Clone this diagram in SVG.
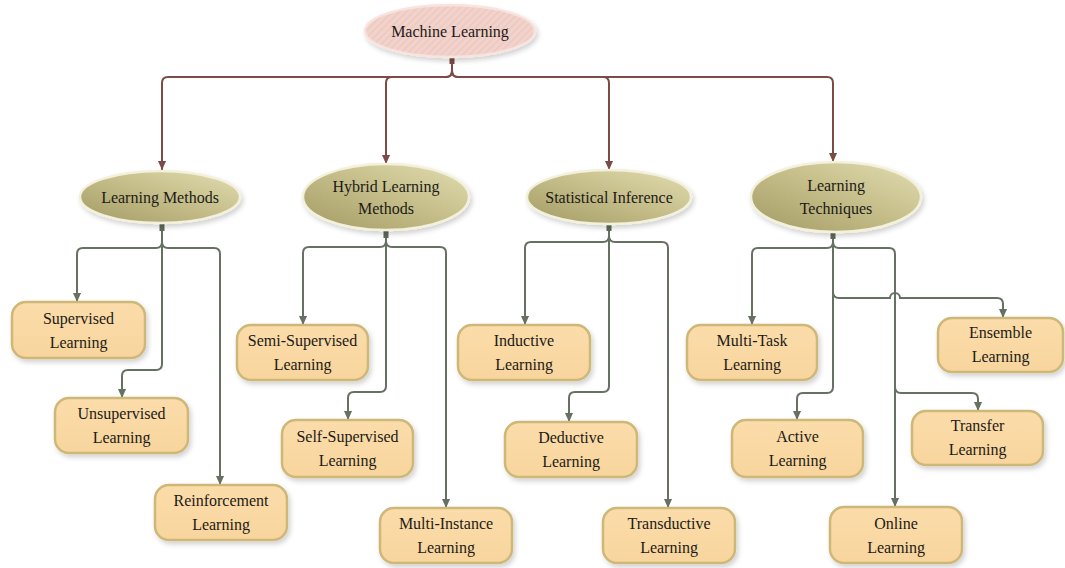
<svg xmlns="http://www.w3.org/2000/svg" width="1065" height="568" viewBox="0 0 1065 568">
<defs>
<style>
.t{font-family:"Liberation Serif","Times New Roman",serif;font-size:16px;fill:#1c1a16;text-anchor:middle}
.box{fill:url(#gBox);stroke:#cdb878;stroke-width:2.5;filter:url(#sh)}
.ell{fill:url(#gEll);stroke:#f3f0dc;stroke-width:2.5;filter:url(#sh)}
.cb{fill:none;stroke:#7b4b47;stroke-width:2;marker-end:url(#ab)}
.cg{fill:none;stroke:#667063;stroke-width:2;marker-end:url(#ag)}
</style>
<linearGradient id="gBox" x1="0" y1="0" x2="0" y2="1">
<stop offset="0" stop-color="#fbdcaa"/><stop offset="1" stop-color="#f8d59d"/>
</linearGradient>
<linearGradient id="gEll" x1="0" y1="1" x2="1" y2="0">
<stop offset="0" stop-color="#a39b64"/><stop offset="0.55" stop-color="#c7c08c"/><stop offset="1" stop-color="#e2ddb2"/>
</linearGradient>
<pattern id="stripe" width="5" height="5" patternUnits="userSpaceOnUse" patternTransform="rotate(45)">
<rect width="5" height="5" fill="#f2d3cc"/><rect width="1.5" height="5" fill="#ecc7bf"/>
</pattern>
<filter id="sh" x="-20%" y="-20%" width="140%" height="150%">
<feDropShadow dx="2" dy="3" stdDeviation="2.5" flood-color="#000" flood-opacity="0.18"/>
</filter>
<marker id="ab" viewBox="0 0 10 10" refX="10" refY="5" markerWidth="9" markerHeight="9" markerUnits="userSpaceOnUse" orient="auto"><path d="M0,0.5 L10,5 L0,9.5 z" fill="#7b4b47"/></marker>
<marker id="ag" viewBox="0 0 10 10" refX="10" refY="5" markerWidth="9" markerHeight="9" markerUnits="userSpaceOnUse" orient="auto"><path d="M0,0.5 L10,5 L0,9.5 z" fill="#667063"/></marker>
</defs>
<rect width="1065" height="568" fill="#ffffff"/>

<g id="connectors">
<path class="cb" d="M452,63 V71 Q452,77 446,77 H168 Q162,77 162,83 V170"/>
<path class="cb" d="M452,63 V71 Q452,77 446,77 H392 Q386,77 386,83 V164"/>
<path class="cb" d="M452,63 V71 Q452,77 458,77 H603 Q609,77 609,83 V170"/>
<path class="cb" d="M452,63 V71 Q452,77 458,77 H827 Q833,77 833,83 V162"/>

<path class="cg" d="M162,230 V242 Q162,248 156,248 H83 Q77,248 77,254 V302"/>
<path class="cg" d="M162,230 V364 Q162,370 156,370 H128 Q122,370 122,376 V398"/>
<path class="cg" d="M162,230 V242 Q162,248 168,248 H214 Q220,248 220,254 V485"/>

<path class="cg" d="M386,236 V241 Q386,247 380,247 H309 Q303,247 303,253 V325"/>
<path class="cg" d="M386,236 V386 Q386,392 380,392 H354 Q348,392 348,398 V420"/>
<path class="cg" d="M386,236 V241 Q386,247 392,247 H440 Q446,247 446,253 V508"/>

<path class="cg" d="M609,230 V236 Q609,242 603,242 H531 Q525,242 525,248 V325"/>
<path class="cg" d="M609,230 V386 Q609,392 603,392 H575 Q569,392 569,398 V422"/>
<path class="cg" d="M609,230 V236 Q609,242 615,242 H662 Q668,242 668,248 V508"/>

<path class="cg" d="M833,238 V242 Q833,248 827,248 H758 Q752,248 752,254 V325"/>
<path class="cg" d="M833,238 V242 Q833,248 839,248 H889 Q895,248 895,254 V507"/>
<path class="cg" d="M833,238 V292 Q833,298 839,298 H890 A5,5 0 0 1 900,298 H997 Q1003,298 1003,304 V318"/>
<path class="cg" d="M833,238 V387 Q833,393 827,393 H803 Q797,393 797,399 V420"/>
<path class="cg" d="M895,387 Q895,393 901,393 H972 Q978,393 978,399 V411"/>

<rect x="449.5" y="56" width="5" height="8" fill="#7b4b47"/>
<rect x="159.5" y="223" width="5" height="8" fill="#5e6a5a"/>
<rect x="383.5" y="230" width="5" height="8" fill="#5e6a5a"/>
<rect x="606.5" y="223" width="5" height="8" fill="#5e6a5a"/>
<rect x="830.5" y="231" width="5" height="8" fill="#5e6a5a"/>
</g>

<g id="machine-learning">
<ellipse cx="450" cy="31" rx="85" ry="26" fill="url(#stripe)" stroke="#f7e4df" stroke-width="2.5" filter="url(#sh)"/>
<text class="t" x="450" y="37">Machine Learning</text>
</g>

<g id="learning-methods">
<ellipse class="ell" cx="160" cy="197" rx="80" ry="26"/>
<text class="t" x="160" y="203">Learning Methods</text>
</g>
<g id="hybrid-learning-methods">
<ellipse class="ell" cx="386" cy="197" rx="83" ry="33"/>
<text class="t" x="386" y="192">Hybrid Learning</text>
<text class="t" x="386" y="214">Methods</text>
</g>
<g id="statistical-inference">
<ellipse class="ell" cx="609" cy="197" rx="82" ry="27"/>
<text class="t" x="609" y="203">Statistical Inference</text>
</g>
<g id="learning-techniques">
<ellipse class="ell" cx="836" cy="197" rx="85" ry="35"/>
<text class="t" x="836" y="191">Learning</text>
<text class="t" x="836" y="214">Techniques</text>
</g>

<g id="supervised">
<rect class="box" x="12" y="302" width="133" height="56" rx="14"/>
<text class="t" x="78.5" y="324">Supervised</text><text class="t" x="78.5" y="348">Learning</text>
</g>
<g id="unsupervised">
<rect class="box" x="55" y="398" width="133" height="55" rx="14"/>
<text class="t" x="121.5" y="419">Unsupervised</text><text class="t" x="121.5" y="443">Learning</text>
</g>
<g id="reinforcement">
<rect class="box" x="155" y="485" width="132" height="55" rx="14"/>
<text class="t" x="221" y="506">Reinforcement</text><text class="t" x="221" y="530">Learning</text>
</g>
<g id="semi-supervised">
<rect class="box" x="237" y="325" width="131" height="55" rx="14"/>
<text class="t" x="302.5" y="346">Semi-Supervised</text><text class="t" x="302.5" y="370">Learning</text>
</g>
<g id="self-supervised">
<rect class="box" x="282" y="420" width="131" height="57" rx="14"/>
<text class="t" x="347.5" y="442">Self-Supervised</text><text class="t" x="347.5" y="466">Learning</text>
</g>
<g id="multi-instance">
<rect class="box" x="380" y="508" width="132" height="55" rx="14"/>
<text class="t" x="446" y="529">Multi-Instance</text><text class="t" x="446" y="553">Learning</text>
</g>
<g id="inductive">
<rect class="box" x="458" y="325" width="132" height="55" rx="14"/>
<text class="t" x="524" y="346">Inductive</text><text class="t" x="524" y="370">Learning</text>
</g>
<g id="deductive">
<rect class="box" x="505" y="422" width="132" height="55" rx="14"/>
<text class="t" x="571" y="443">Deductive</text><text class="t" x="571" y="467">Learning</text>
</g>
<g id="transductive">
<rect class="box" x="603" y="508" width="132" height="55" rx="14"/>
<text class="t" x="669" y="529">Transductive</text><text class="t" x="669" y="553">Learning</text>
</g>
<g id="multi-task">
<rect class="box" x="687" y="325" width="130" height="55" rx="14"/>
<text class="t" x="752" y="346">Multi-Task</text><text class="t" x="752" y="370">Learning</text>
</g>
<g id="ensemble">
<rect class="box" x="938" y="318" width="125" height="54" rx="14"/>
<text class="t" x="1000.5" y="338">Ensemble</text><text class="t" x="1000.5" y="362">Learning</text>
</g>
<g id="active">
<rect class="box" x="732" y="420" width="131" height="57" rx="14"/>
<text class="t" x="797.5" y="442">Active</text><text class="t" x="797.5" y="466">Learning</text>
</g>
<g id="transfer">
<rect class="box" x="912" y="411" width="131" height="54" rx="14"/>
<text class="t" x="977.5" y="431">Transfer</text><text class="t" x="977.5" y="455">Learning</text>
</g>
<g id="online">
<rect class="box" x="830" y="507" width="132" height="56" rx="14"/>
<text class="t" x="896" y="529">Online</text><text class="t" x="896" y="553">Learning</text>
</g>
</svg>
